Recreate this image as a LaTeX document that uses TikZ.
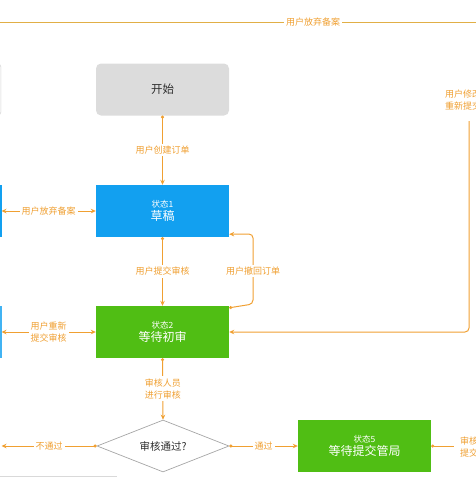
\documentclass[tikz,border=0pt]{standalone}
\usepackage{fontspec}
\setmainfont{Noto Sans CJK SC}
\usetikzlibrary{arrows.meta,shapes.geometric,calc}
\definecolor{org}{RGB}{240,160,50}
\definecolor{gold}{RGB}{225,175,70}
\definecolor{bluebx}{RGB}{18,160,240}
\definecolor{greenbx}{RGB}{80,190,20}
\definecolor{graybx}{RGB}{220,220,220}
\definecolor{txtdark}{RGB}{45,45,45}
\tikzset{
  boxbase/.style={minimum width=133pt,minimum height=52pt,inner sep=0pt,align=center},
  graystate/.style={boxbase,fill=graybx,rounded corners=5pt,text=txtdark,font=\fontsize{11.5}{14}\selectfont},
  bluestate/.style={boxbase,fill=bluebx,text=white},
  greenstate/.style={boxbase,fill=greenbx,text=white},
  decbox/.style={diamond,draw=gray!70,fill=white,line width=0.7pt,minimum width=132pt,minimum height=52pt,shape aspect=2.54,inner sep=0pt,text=txtdark,font=\fontsize{10.5}{13}\selectfont},
  lbl/.style={fill=white,text=org,font=\fontsize{9}{12.5}\selectfont,inner sep=2pt,align=center},
  conn/.style={draw=org,line width=1pt,-{Stealth[length=5pt,width=4.5pt]}},
  dotconn/.style={draw=org,line width=1pt,{Circle[length=3pt]}-{Stealth[length=5pt,width=4.5pt]}},
  bothconn/.style={draw=org,line width=1pt,{Stealth[length=5pt,width=4.5pt]}-{Stealth[length=5pt,width=4.5pt]}},
  dotonly/.style={draw=org,line width=1pt,{Circle[length=3pt]}-},
  topline/.style={draw=gold,line width=1pt},
}
\newcommand{\stl}[2]{{\fontsize{8.5}{10}\selectfont #1}\\[1pt]{\fontsize{12}{15}\selectfont #2}}
\begin{document}
\begin{tikzpicture}[x=1pt,y=-1pt]
\useasboundingbox (0,0) rectangle (476,477);
\clip (0,0) rectangle (476,477);
% partial boxes at left edge
\draw[gray!35,fill=gray!8,rounded corners=3pt] (-12,64) rectangle (1,115);
\fill[bluebx] (-12,185) rectangle (1.5,237);
\fill[bluebx!80] (-12,306) rectangle (1.5,358);
\draw[gray!30,line width=1pt] (0,476.5) -- (117,476.5);
% main states
\node[graystate] (start) at (162.5,89.5) {开始};
\node[bluestate] (s1) at (162.5,211) {\stl{状态1}{草稿}};
\node[greenstate] (s2) at (162.5,332) {\stl{状态2}{等待初审}};
\node[decbox] (dec) at (163,446) {审核通过?};
\node[greenstate] (s5) at (364.5,446) {\stl{状态5}{等待提交管局}};
% free ends
\coordinate (tl) at (0,22);
\coordinate (tr) at (476,22);
\coordinate (l1) at (1.5,211);
\coordinate (l2) at (1.5,332);
\coordinate (l3) at (1.5,446);
\coordinate (r5) at (454,446);
\coordinate (rt) at (469,121);
% top line
\draw[topline] (tl) -- node[lbl,pos=0.658] (ltop) {用户放弃备案} (tr);
% vertical flow
\draw[dotconn] (start.south) -- node[lbl] (lb1) {用户创建订单} (s1.north);
\draw[dotconn] (s1.south) -- node[lbl] (lb2) {用户提交审核} (s2.north);
\draw[dotconn] (s2.south) -- node[lbl] (lb3) {审核人员\\进行审核} (dec.north);
% left branches
\draw[bothconn] (l1) -- node[lbl] (lb4) {用户放弃备案} (s1.west);
\draw[bothconn] (l2) -- node[lbl] (lb5) {用户重新\\提交审核} (s2.west);
\draw[dotconn] (dec.west) -- node[lbl] (lb6) {不通过} (l3);
% right of decision
\draw[dotconn] (dec.east) -- node[lbl] (lb7) {通过} (s5.west);
\draw[dotonly] (s5.east) -- (r5);
\node[lbl,anchor=west] (lb8) at (458,447) {审核通过\\提交管局};
% withdraw loop
\draw[dotconn,rounded corners=4pt] ([yshift=-2pt]s2.north east) -- (253,304) -- (253,234) -- ([yshift=3pt]s1.south east);
\node[lbl] (lb9) at (253,271) {用户撤回订单};
% big right loop
\draw[conn,rounded corners=4pt] (rt) |- (s2.east);
\node[lbl] (lb10) at (472,100) {用户修改订单\\重新提交审核};
\end{tikzpicture}
\end{document}
